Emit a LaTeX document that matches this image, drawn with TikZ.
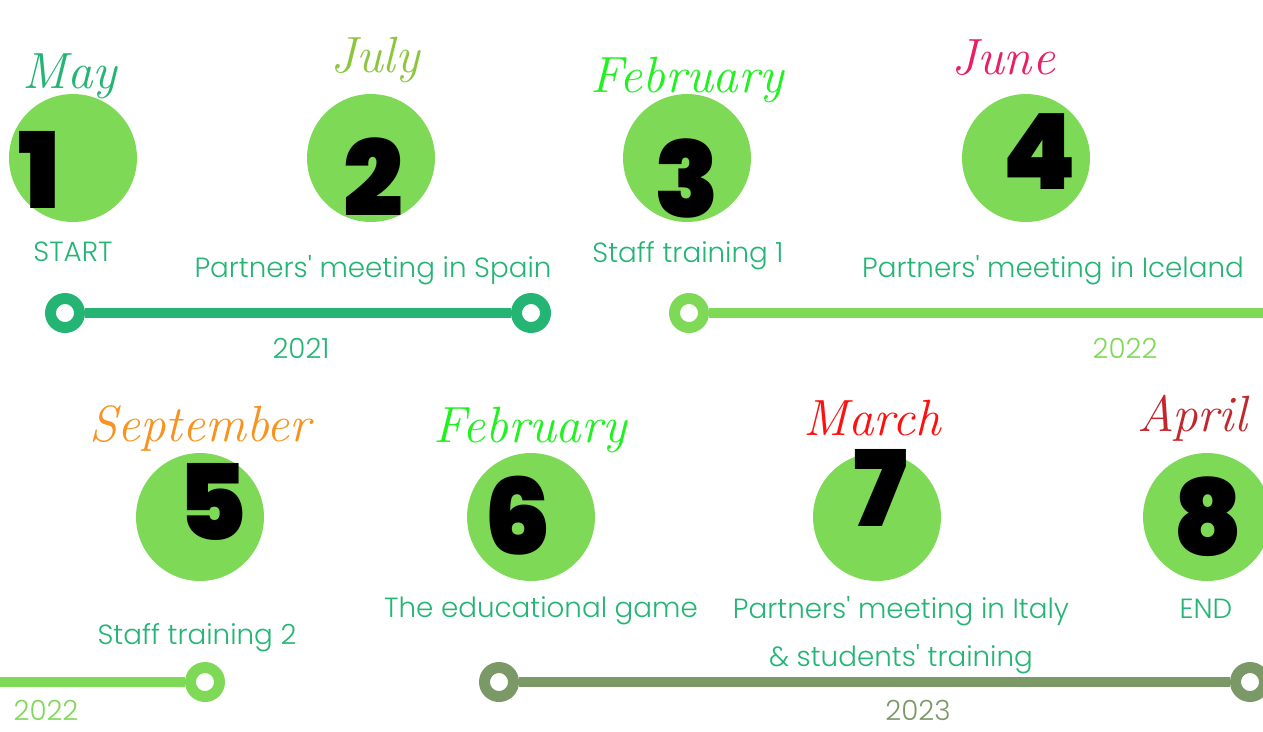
\documentclass[tikz,border=0pt]{standalone}
\usepackage{fontspec}
\setmainfont{Poppins}[UprightFont=* Light, Ligatures=TeXOff]
\newfontfamily\digitfont{Poppins}[UprightFont=* Black]
\usetikzlibrary{positioning}

\definecolor{teal}{HTML}{24B574}
\definecolor{leaf}{HTML}{7ED957}
\definecolor{olive}{HTML}{7B9966}
\definecolor{julycol}{HTML}{8CC63F}
\definecolor{febcol}{HTML}{1FF21F}
\definecolor{junecol}{HTML}{E91E63}
\definecolor{septcol}{HTML}{F7931E}
\definecolor{marchcol}{HTML}{FF1010}
\definecolor{aprilcol}{HTML}{C1272D}

\begin{document}
\begin{tikzpicture}[x=0.02cm, y=-0.02cm,
    stage/.style={circle, fill=leaf, minimum size=2.56cm, inner sep=0pt},
    digit/.style={font=\digitfont\fontsize{60}{60}\selectfont, inner sep=0pt},
    month/.style={font=\fontfamily{lmr}\itshape\fontsize{29}{29}\selectfont, inner sep=0pt},
    event/.style={text=teal, font=\fontsize{15.8}{18}\selectfont, inner sep=0pt, anchor=base},
    year/.style={font=\fontsize{15.8}{18}\selectfont, inner sep=0pt, anchor=base},
    ring/.style={circle, draw=#1, fill=white, line width=0.22cm, minimum size=0.58cm, inner sep=0pt},
    bar/.style={draw=#1, line width=0.2cm}]
  \useasboundingbox (0,0) rectangle (1263,731);

  % Top row
  \node[stage] (c1) at (73,158) {};
  \node[stage] (c2) at (371,158) {};
  \node[stage] (c3) at (687,158) {};
  \node[stage] (c4) at (1026,158) {};
  \node[digit] (d1) at (40,170) {1};
  \node[digit] (d2) at (373,177) {2};
  \node[digit] (d3) at (687,178) {3};
  \node[digit] (d4) at (1040,152) {4};
  \node[month, text=teal] (m1) at (70,76) {May};
  \node[month, text=julycol] (m2) at (375,60) {July};
  \node[month, text=febcol] (m3) at (687,80) {February};
  \node[month, text=junecol] (m4) at (1003,58) {June};
  \node[event] (e1) at (73,261) {START};
  \node[event] (e2) at (373,277) {Partners' meeting in Spain};
  \node[event] (e3) at (688,262) {Staff training 1};
  \node[event] (e4) at (1053,277) {Partners' meeting in Iceland};

  % 2021 and 2022 bars
  \node[ring=teal] (r1) at (65,313) {};
  \node[ring=teal] (r2) at (531,313) {};
  \node[ring=leaf] (r3) at (689,313) {};
  \coordinate (r3end) at (1263,313);
  \draw[bar=teal] (r1) -- (r2);
  \draw[bar=leaf] (r3) -- (r3end);
  \node[year, text=teal] (y1) at (301,358) {2021};
  \node[year, text=leaf] (y2) at (1125,358) {2022};

  % Bottom row
  \node[stage] (c5) at (200,517) {};
  \node[stage] (c6) at (531,517) {};
  \node[stage] (c7) at (877,517) {};
  \node[stage] (c8) at (1207,517) {};
  \node[digit] (d5) at (212,502) {5};
  \node[digit] (d6) at (518,516) {6};
  \node[digit] (d7) at (880,488) {7};
  \node[digit] (d8) at (1208,517) {8};
  \node[month, text=septcol] (m5) at (200,428) {September};
  \node[month, text=febcol] (m6) at (530,430) {February};
  \node[month, text=marchcol] (m7) at (872,418) {March};
  \node[month, text=aprilcol] (m8) at (1192,418) {April};
  \node[event] (e5) at (197,644) {Staff training 2};
  \node[event] (e6) at (541,617) {The educational game};
  \node[event] (e7) at (901,618) {Partners' meeting in Italy};
  \node[event] (e7b) at (901,666) {\& students' training};
  \node[event] (e8) at (1206,618) {END};

  % 2022 and 2023 bars
  \coordinate (r4start) at (0,682);
  \node[ring=leaf] (r4) at (205,682) {};
  \node[ring=olive] (r5) at (499,682) {};
  \node[ring=olive] (r6) at (1250,682) {};
  \draw[bar=leaf] (r4start) -- (r4);
  \draw[bar=olive] (r5) -- (r6);
  \node[year, text=leaf] (y3) at (46,720) {2022};
  \node[year, text=olive] (y4) at (918,720) {2023};
\end{tikzpicture}
\end{document}
